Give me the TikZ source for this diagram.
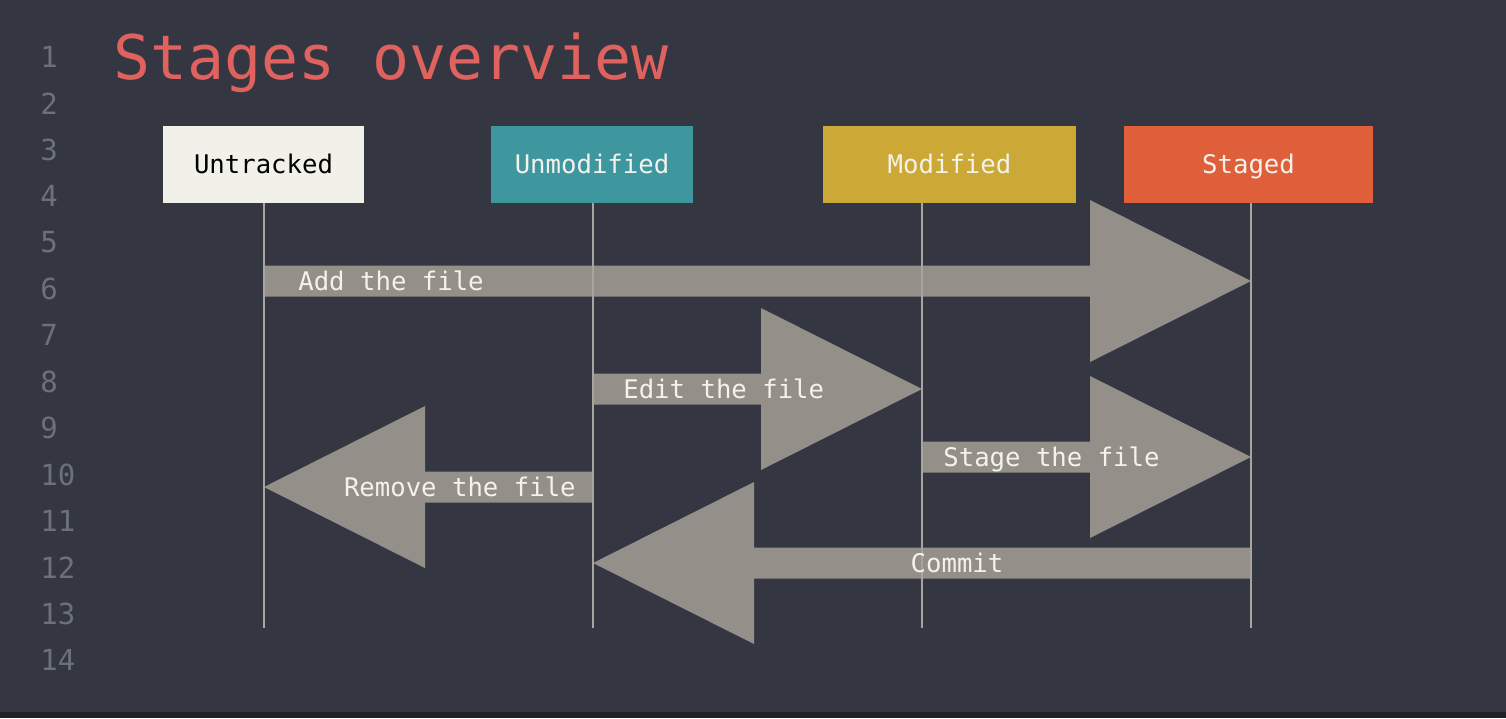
\documentclass[tikz,border=0pt]{standalone}
\usepackage{fontspec}
\setmonofont{DejaVu Sans Mono}
\definecolor{slidebg}{HTML}{343741}
\definecolor{slideedge}{HTML}{1E2129}
\definecolor{titlered}{HTML}{E0625F}
\definecolor{numgray}{HTML}{6C7078}
\definecolor{cream}{HTML}{F2F1E9}
\definecolor{teal}{HTML}{3E969E}
\definecolor{mustard}{HTML}{CCA936}
\definecolor{coral}{HTML}{E05F3B}
\definecolor{arrowgray}{HTML}{948F88}
\definecolor{linegray}{HTML}{A8A49E}
\definecolor{labelwhite}{HTML}{F4F2EA}
\tikzset{
  stage/.style={minimum height=1.54cm, inner sep=0pt, text height=10.7pt, text depth=0pt,
    font=\ttfamily\fontsize{14.6}{16}\selectfont, text=labelwhite},
  lifeline/.style={draw=linegray, line width=0.8pt},
  bigarrow/.style={fill=arrowgray},
  arrowlabel/.style={inner sep=0pt, text=labelwhite, text height=10.7pt, text depth=0pt,
    font=\ttfamily\fontsize{14.6}{16}\selectfont},
  linenum/.style={anchor=west, inner sep=0pt, text=numgray,
    font=\ttfamily\fontsize{16.5}{18}\selectfont}
}
\begin{document}
\begin{tikzpicture}[x=0.02cm, y=-0.02cm]
    \fill[slidebg] (0,0) rectangle (1506,718);
    \fill[slideedge] (0,712) rectangle (1506,718);
    \useasboundingbox (0,0) rectangle (1506,718);

    % line numbers and title
    \foreach \n in {1,...,14} \node[linenum] (ln\n) at (40, {57+(\n-1)*46.4}) {\n};
    \node[anchor=west, inner sep=0pt, text=titlered,
      font=\ttfamily\fontsize{35}{40}\selectfont] (title) at (113,63) {Stages overview};

    % stages
    \node[stage, fill=cream, text=black, minimum width=4.02cm] (ut) at (263.5,164.5) {Untracked};
    \node[stage, fill=teal, minimum width=4.04cm] (um) at (592,164.5) {Unmodified};
    \node[stage, fill=mustard, minimum width=5.06cm] (md) at (949.5,164.5) {Modified};
    \node[stage, fill=coral, minimum width=4.98cm] (st) at (1248.5,164.5) {Staged};

    % big arrows: from / to / row
    \foreach \xa/\xb/\yy in {264/1251/281, 593/922/389, 922/1251/457, 593/264/487, 1251/593/563} {
        \pgfmathsetmacro\hb{\xb - 161*sign(\xb-\xa)}
        \fill[bigarrow] (\xa,{\yy-15.5}) -- (\hb,{\yy-15.5}) -- (\hb,{\yy-81}) -- (\xb,\yy)
            -- (\hb,{\yy+81}) -- (\hb,{\yy+15.5}) -- (\xa,{\yy+15.5}) -- cycle;
    }

    % lifelines
    \coordinate (ut1) at (264,203); \coordinate (ut2) at (264,628);
    \coordinate (um1) at (593,203); \coordinate (um2) at (593,628);
    \coordinate (md1) at (922,203); \coordinate (md2) at (922,628);
    \coordinate (st1) at (1251,203); \coordinate (st2) at (1251,628);
    \foreach \p in {ut,um,md,st} \draw[lifeline] (\p1) -- (\p2);

    \node[arrowlabel, anchor=west] (add) at (298,281) {Add the file};
    \node[arrowlabel, anchor=west] (edit) at (623,389) {Edit the file};
    \node[arrowlabel, anchor=west] (stage) at (943,457) {Stage the file};
    \node[arrowlabel, anchor=east] (remove) at (576,487) {Remove the file};
    \node[arrowlabel] (commit) at (957,563) {Commit};
\end{tikzpicture}
\end{document}
